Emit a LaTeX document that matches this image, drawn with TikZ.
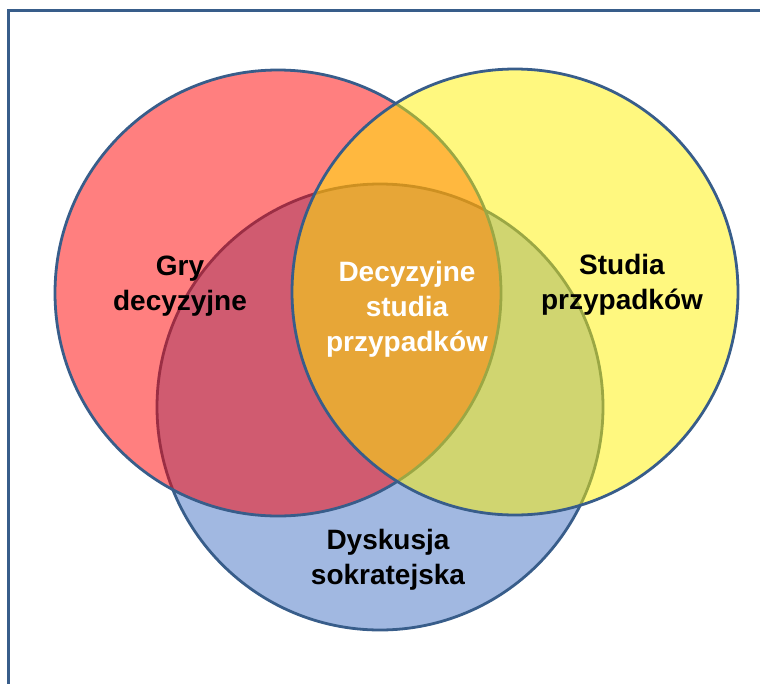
\documentclass[tikz,border=0pt]{standalone}
\usepackage{fontspec}
\setmainfont{Liberation Sans}
\definecolor{edge}{RGB}{56,93,138}
\definecolor{bluefill}{RGB}{161,184,225}
\tikzset{
  circ/.style={circle, draw=edge, line width=2.8pt, minimum size=446pt, inner sep=0pt},
  lbl/.style={font=\bfseries\fontsize{28}{35}\selectfont, align=center, text=black},
}
\begin{document}
\begin{tikzpicture}[x=1pt,y=-1pt]
\useasboundingbox (0,0) rectangle (760,683);
\clip (0,0) rectangle (760,683);
\fill[white] (0,0) rectangle (760,683);
\draw[edge, line width=3.5pt] (8.5,10.5) rectangle (820,740);
\node[circ, fill=bluefill] (blue) at (380,407) {};
\node[circ, fill=red, fill opacity=0.5] (red) at (278,293) {};
\node[circ, fill=yellow, fill opacity=0.5] (yellow) at (515,292) {};
\node[lbl] (gry) at (180,286) {Gry\\decyzyjne};
\node[lbl] (studia) at (622,285) {Studia\\przypadków};
\node[lbl, text=white] (center) at (407,309) {Decyzyjne\\studia\\przypadków};
\node[lbl] (dysk) at (388,560) {Dyskusja\\sokratejska};
\end{tikzpicture}
\end{document}
